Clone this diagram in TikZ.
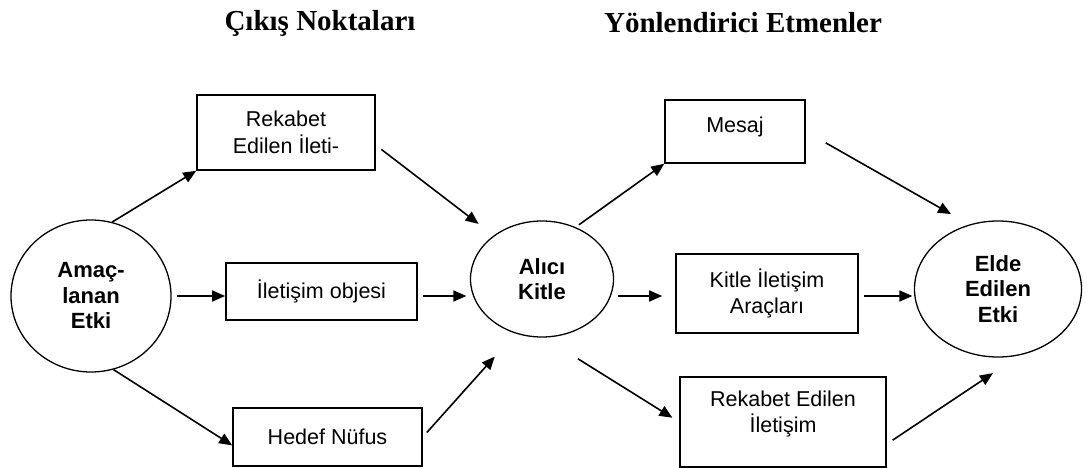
\documentclass[tikz,border=0pt]{standalone}
\usepackage{fontspec}
\setmainfont{Liberation Serif}
\setsansfont{Liberation Sans}
\usetikzlibrary{arrows.meta}
\usetikzlibrary{shapes.geometric}

\begin{document}
\begin{tikzpicture}[x=1pt, y=-1pt,
	box/.style={draw, line width=1.6pt, rectangle, inner sep=0pt, align=center, font=\sffamily\fontsize{21.5}{26.5}\selectfont},
	blob/.style={draw, line width=1.3pt, ellipse, inner sep=0pt, align=center, font=\sffamily\bfseries\fontsize{22}{25.5}\selectfont},
	head/.style={font=\bfseries\fontsize{29}{31}\selectfont},
	arr/.style={line width=1.6pt, -{Triangle[length=13pt, width=11pt]}}]

	\useasboundingbox (0,0) rectangle (1087,468);

	%column titles
	\node[head] (title1) at (320,23) {Çıkış Noktaları};
	\node[head] (title2) at (743,23) {Yönlendirici Etmenler};

	%circles
	\node[blob, minimum width=160, minimum height=152] (amac) at (91,296) {Amaç-\\lanan\\Etki};
	\node[blob, minimum width=143, minimum height=116] (alici) at (542,279) {Alıcı\\Kitle};
	\node[blob, minimum width=167, minimum height=136] (elde) at (998,289) {Elde\\Edilen\\Etki};

	%boxes, left column
	\node[box, minimum width=178, minimum height=75] (rek1) at (286,132.5) {Rekabet\\Edilen İleti-};
	\node[box, minimum width=191, minimum height=57] (ilet) at (321.5,291.5) {İletişim objesi};
	\node[box, minimum width=189, minimum height=58] (hedef) at (327.5,437) {Hedef Nüfus};

	%boxes, right column (text sits high in the last two)
	\node[box, minimum width=140, minimum height=63, text depth=13.5pt] (mesaj) at (735,131.5) {Mesaj};
	\node[box, minimum width=182, minimum height=79] (kitle) at (767,293.5) {Kitle İletişim\\Araçları};
	\node[box, minimum width=206, minimum height=90, text depth=21pt] (rek2) at (783,422) {Rekabet Edilen\\İletişim};

	%arrows out of the left circle
	\draw[arr] (amac.74) -- (rek1.south west);
	\draw[arr, shorten <=5pt] (amac.east) -- (amac.east -| ilet.west);
	\draw[arr] (amac.-73) -- (hedef.185);

	%arrows into the middle circle
	\draw[arr, shorten <=7pt, shorten >=19pt] (rek1.-8) -- (alici.138);
	\draw[arr, shorten <=5pt, shorten >=3.5pt] (ilet.east |- amac.east) -- (alici.west |- amac.east);
	\draw[arr, shorten <=6pt, shorten >=31pt] (hedef.east) -- (alici.-116);

	%arrows out of the middle circle
	\draw[arr, shorten <=4pt] (alici.57) -- (mesaj.south west);
	\draw[arr, shorten <=3.5pt, shorten >=13pt] (alici.east |- amac.east) -- (kitle.west |- amac.east);
	\draw[arr, shorten <=40pt, shorten >=8pt] (alici.-88) -- (rek2.west);

	%arrows into the right circle
	\draw[arr, shorten <=23pt, shorten >=21pt] (mesaj.east) -- (elde.114);
	\draw[arr, shorten <=5pt, shorten >=1.5pt] (kitle.east |- amac.east) -- (elde.west |- amac.east);
	\draw[arr, shorten <=7pt, shorten >=32pt] (rek2.-12) -- (elde.-72);

\end{tikzpicture}
\end{document}
